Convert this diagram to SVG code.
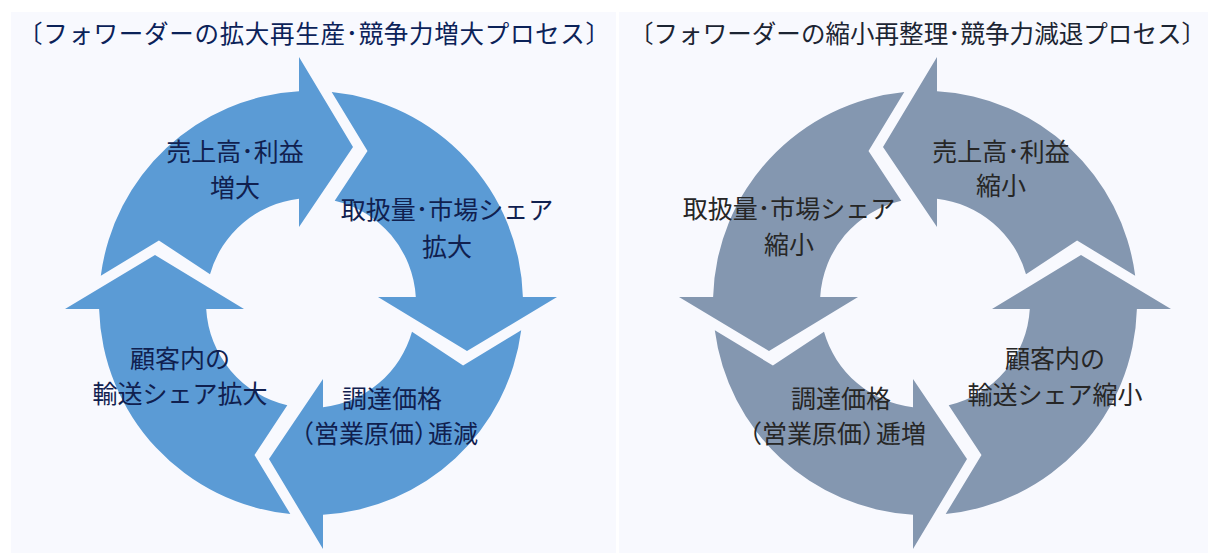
<svg xmlns="http://www.w3.org/2000/svg" width="1208" height="553" viewBox="0 0 1208 553">
  <style>
    .panel { fill: #F8F9FE; }
    .blue { fill: #5B9BD5; }
    .gray { fill: #8497B0; }
    text { font-family: "Noto Sans CJK JP", "Noto Sans", sans-serif; }
    .title-l { font-size: 24.5px; fill: #0B2259; }
    .title-r { font-size: 24.5px; fill: #1C2533; }
    .lab-l { font-size: 25px; fill: #10204F; text-anchor: middle; }
    .lab-r { font-size: 25px; fill: #262626; text-anchor: middle; }
    .st { text-anchor: start; }
  </style>
  <defs>
    <path id="segA" d="M -210.2,-27.2 A 212 212 0 0 1 -12,-211.7 L -12,-246 L 42,-156 L -12,-76 L -12,-104.3 A 105 105 0 0 0 -101.0,-28.8 L -152.1,-62.5 Z"/>
    <path id="segB" d="M -211.0,-20.7 A 212 212 0 0 1 -6,-211.9 L -6,-246 L 48,-156 L -6,-67 L -6,-104.8 A 105 105 0 0 0 -102.3,-23.7 L -152.1,-56.5 Z"/>
  </defs>

  <rect class="panel" x="11" y="12" width="605" height="541"/>
  <rect class="panel" x="619" y="12" width="589" height="541"/>

  <text class="title-l" x="18" y="43" textLength="592" lengthAdjust="spacing">〔フォワーダーの拡大再生産･競争力増大プロセス〕</text>
  <text class="title-r" x="629" y="43" textLength="577" lengthAdjust="spacing">〔フォワーダーの縮小再整理･競争力減退プロセス〕</text>

  <g id="connectors"></g>

  <!-- Left cycle (clockwise) -->
  <g id="left-cycle">
    <g id="l-sales">
      <use href="#segA" class="blue" transform="translate(311,303)"/>
      <text class="lab-l" x="235" y="161">売上高･利益</text>
      <text class="lab-l" x="235" y="197">増大</text>
    </g>
    <g id="l-volume">
      <use href="#segB" class="blue" transform="translate(311,303) rotate(90)"/>
      <text class="lab-l" x="447" y="219">取扱量･市場シェア</text>
      <text class="lab-l" x="447" y="256">拡大</text>
    </g>
    <g id="l-cost">
      <use href="#segA" class="blue" transform="translate(311,303) rotate(180)"/>
      <text class="lab-l" x="392" y="408">調達価格</text>
      <text class="lab-l st" x="289 314 339 364 389 414 428 453" y="443">（営業原価）逓減</text>
    </g>
    <g id="l-share">
      <use href="#segB" class="blue" transform="translate(311,303) rotate(270)"/>
      <text class="lab-l" x="180" y="368">顧客内の</text>
      <text class="lab-l" x="180" y="403">輸送シェア拡大</text>
    </g>
  </g>

  <!-- Right cycle (counter-clockwise, mirrored) -->
  <g id="right-cycle">
    <g id="r-sales">
      <use href="#segA" class="gray" transform="translate(925,303) scale(-1,1)"/>
      <text class="lab-r" x="1001" y="161">売上高･利益</text>
      <text class="lab-r" x="1001" y="195">縮小</text>
    </g>
    <g id="r-volume">
      <use href="#segB" class="gray" transform="translate(925,303) scale(-1,1) rotate(90)"/>
      <text class="lab-r" x="789" y="218">取扱量･市場シェア</text>
      <text class="lab-r" x="789" y="254">縮小</text>
    </g>
    <g id="r-cost">
      <use href="#segA" class="gray" transform="translate(925,303) scale(-1,1) rotate(180)"/>
      <text class="lab-r" x="841" y="408">調達価格</text>
      <text class="lab-r st" x="737 762 787 812 837 862 876 901" y="443">（営業原価）逓増</text>
    </g>
    <g id="r-share">
      <use href="#segB" class="gray" transform="translate(925,303) scale(-1,1) rotate(270)"/>
      <text class="lab-r" x="1055" y="368">顧客内の</text>
      <text class="lab-r" x="1055" y="404">輸送シェア縮小</text>
    </g>
  </g>
</svg>
